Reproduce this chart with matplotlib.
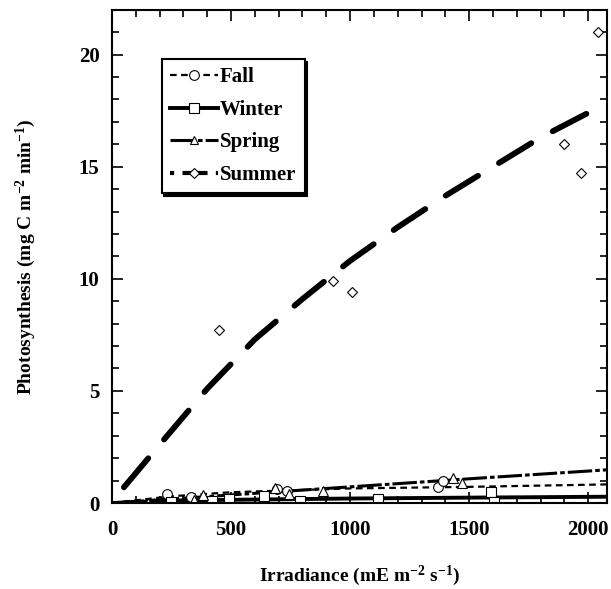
import matplotlib
matplotlib.use("Agg")
import matplotlib.pyplot as plt
from matplotlib.lines import Line2D
from matplotlib.ticker import MultipleLocator

plt.rcParams['font.family'] = ['Liberation Serif', 'DejaVu Serif']
plt.rcParams['font.weight'] = 'bold'
plt.rcParams['mathtext.default'] = 'regular'
plt.rcParams['axes.unicode_minus'] = False

# measured points
fall_x = [230, 333, 693, 736, 1368, 1391]
fall_y = [0.39, 0.27, 0.63, 0.55, 0.73, 1.0]
winter_x = [248, 420, 492, 638, 788, 1119, 1593, 1606]
winter_y = [0.06, 0.1, 0.17, 0.33, 0.1, 0.2, 0.5, 0.05]
spring_x = [151, 344, 382, 683, 743, 887, 1434, 1469]
spring_y = [0.0, 0.13, 0.36, 0.65, 0.38, 0.55, 1.13, 0.9]
summer_x = [450, 930, 1010, 1900, 1970, 2040]
summer_y = [7.7, 9.9, 9.4, 16.0, 14.7, 21.0]

# fitted curves
fall_fit_x = [0, 250, 500, 1000, 1500, 2080]
fall_fit_y = [0.0, 0.3, 0.48, 0.65, 0.72, 0.83]
winter_fit_x = [0, 300, 1000, 1500, 2080]
winter_fit_y = [0.0, 0.12, 0.2, 0.24, 0.28]
spring_fit_x = [0, 500, 1000, 1500, 2080]
spring_fit_y = [0.0, 0.36, 0.72, 1.08, 1.48]
summer_fit_x = [50, 200, 400, 600, 800, 1000, 1200, 1400, 1600, 1800, 2000, 2080]
summer_fit_y = [0.7, 2.6, 5.1, 7.3, 9.1, 10.8, 12.3, 13.7, 15.0, 16.3, 17.4, 17.8]

fig = plt.figure(figsize=(6.11, 5.89), dpi=100)
ax = fig.add_axes([0.1833, 0.146, 0.8105, 0.8375])

ax.plot(winter_fit_x, winter_fit_y, color='black', lw=2.8)
ax.plot(fall_fit_x, fall_fit_y, color='black', lw=1.6, dashes=(3, 2))
ax.plot(spring_fit_x, spring_fit_y, color='black', lw=2.2, dashes=(8, 1, 1.5, 1))
ax.plot(summer_fit_x, summer_fit_y, color='black', lw=4.2, dashes=(6.5, 4.2),
        dash_capstyle='round')

mk = dict(ls='none', mfc='white', mec='black', mew=0.8)
ax.plot(fall_x, fall_y, marker='o', ms=7, **mk)
ax.plot(winter_x, winter_y, marker='s', ms=7, **mk)
ax.plot(spring_x, spring_y, marker='^', ms=7, **mk)
ax.plot(summer_x, summer_y, marker='D', ms=5, **mk)

ax.set_xlim(0, 2080)
ax.set_ylim(0, 22)
ax.xaxis.set_major_locator(MultipleLocator(500))
ax.xaxis.set_minor_locator(MultipleLocator(100))
ax.yaxis.set_major_locator(MultipleLocator(5))
ax.yaxis.set_minor_locator(MultipleLocator(1))
ax.tick_params(which='both', direction='in', top=True, right=True, width=1.2)
ax.tick_params(which='major', length=8, labelsize=15)
ax.tick_params(axis='x', which='major', pad=12)
ax.tick_params(axis='y', which='major', pad=9)
ax.tick_params(which='minor', length=5)
for s in ax.spines.values():
    s.set_linewidth(1.5)

ax.set_xlabel('Irradiance (mE m$^{-2}$ s$^{-1}$)', fontsize=14, fontweight='bold', labelpad=17)
ax.set_ylabel('Photosynthesis (mg C m$^{-2}$ min$^{-1}$)', fontsize=14, fontweight='bold', labelpad=29)

handles = [
    Line2D([], [], color='black', lw=1.6, dashes=(3, 2), marker='o', ms=7, mfc='white', mec='black', mew=0.8),
    Line2D([], [], color='black', lw=2.8, marker='s', ms=7, mfc='white', mec='black', mew=0.8),
    Line2D([], [], color='black', lw=2.2, dashes=(8, 1, 1.5, 1), marker='^', ms=6, mfc='white', mec='black', mew=0.8),
    Line2D([], [], color='black', lw=3, dashes=(1, 2, 5, 0.01), marker='D', ms=5, mfc='white', mec='black', mew=0.8),
]
leg = ax.legend(handles, ['Fall', 'Winter', 'Spring', 'Summer'], loc='upper left',
                bbox_to_anchor=(0.1, 0.9), fontsize=15, frameon=True, fancybox=False,
                shadow={'color': 'black', 'alpha': 1.0, 'ox': 2, 'oy': -2}, edgecolor='black',
                handlelength=2.3, handletextpad=0.1,
                borderpad=0.4, labelspacing=0.6, borderaxespad=0)
leg.get_frame().set_linewidth(1.5)

fig.savefig('out.png', dpi=100)
